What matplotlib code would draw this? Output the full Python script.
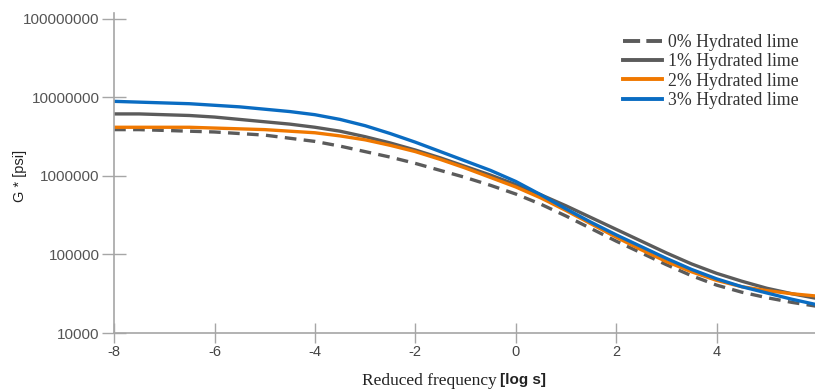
import numpy as np
import matplotlib
matplotlib.use("Agg")
import matplotlib.pyplot as plt
from matplotlib.lines import Line2D
from matplotlib.ticker import FixedLocator, NullLocator

# reduced frequency [log s]
freq = [-8, -7.5, -7, -6.5, -6, -5.5, -5, -4.5, -4, -3.5, -3, -2.5, -2, -1.5, -1, -0.5, 0,
        0.5, 1, 1.5, 2, 2.5, 3, 3.5, 4, 4.5, 5, 5.5, 6]

# log10 of G* [psi]
logg_0 = [6.59, 6.59, 6.58, 6.57, 6.56, 6.54, 6.52, 6.48, 6.44, 6.38, 6.31, 6.24, 6.16, 6.07,
          5.98, 5.88, 5.77, 5.64, 5.49, 5.33, 5.17, 5.02, 4.87, 4.73, 4.61, 4.52, 4.45, 4.39, 4.34]
logg_1 = [6.79, 6.79, 6.78, 6.77, 6.75, 6.72, 6.69, 6.66, 6.62, 6.57, 6.50, 6.42, 6.33, 6.23,
          6.12, 6.01, 5.89, 5.76, 5.62, 5.47, 5.32, 5.17, 5.02, 4.88, 4.76, 4.66, 4.57, 4.50, 4.44]
logg_2 = [6.62, 6.62, 6.62, 6.62, 6.61, 6.60, 6.59, 6.57, 6.55, 6.51, 6.46, 6.39, 6.31, 6.21,
          6.10, 5.98, 5.86, 5.72, 5.56, 5.39, 5.22, 5.06, 4.91, 4.78, 4.67, 4.59, 4.54, 4.50, 4.47]
logg_3 = [6.95, 6.94, 6.93, 6.92, 6.90, 6.88, 6.85, 6.82, 6.78, 6.72, 6.64, 6.54, 6.43, 6.31,
          6.19, 6.07, 5.93, 5.76, 5.58, 5.41, 5.25, 5.10, 4.95, 4.81, 4.69, 4.59, 4.51, 4.43, 4.36]

labels = ["0% Hydrated lime", "1% Hydrated lime", "2% Hydrated lime", "3% Hydrated lime"]
y_ticks = [1e4, 1e5, 1e6, 1e7, 1e8]
x_ticks = [-8, -6, -4, -2, 0, 2, 4]

fig = plt.figure(figsize=(8.15, 3.92), dpi=100)
ax = fig.add_axes([0.140, 0.1505, 0.860, 0.8165])

gray = "#5b5b5b"
orange = "#f07800"
blue = "#0a6cc2"
ax.plot(freq, 10 ** np.array(logg_0), color=gray, lw=2.4, ls=(0, (3.5, 2.2)))
ax.plot(freq, 10 ** np.array(logg_1), color=gray, lw=2.4)
ax.plot(freq, 10 ** np.array(logg_2), color=orange, lw=2.4)
ax.plot(freq, 10 ** np.array(logg_3), color=blue, lw=2.4)

ax.set_yscale("log")
ax.set_ylim(1e4, 10 ** 8.076)
ax.set_xlim(-8, 5.96)
ax.yaxis.set_major_locator(FixedLocator(y_ticks))
ax.yaxis.set_minor_locator(NullLocator())
ax.set_yticklabels([str(int(v)) for v in y_ticks])
ax.set_xticks(x_ticks)
ax.set_xticklabels([str(v) for v in x_ticks])

for s in ["top", "right"]:
    ax.spines[s].set_visible(False)
for s in ["left", "bottom"]:
    ax.spines[s].set_color("#a6a6a6")
    ax.spines[s].set_linewidth(1.2)

ax.tick_params(axis="y", direction="inout", length=17, width=1, color="#a6a6a6",
               labelsize=11, labelcolor="#555555", pad=2)
ax.tick_params(axis="x", direction="inout", length=15, width=1, color="#a6a6a6",
               labelsize=10.5, labelcolor="#444444", pad=1)
for t in ax.get_xticklabels() + ax.get_yticklabels():
    t.set_fontfamily("Liberation Sans")

# legend handles drawn a bit heavier, dashed one with two long dashes like the original
handles = [
    Line2D([], [], color=gray, lw=2.8, ls=(0, (4.4, 1.6))),
    Line2D([], [], color=gray, lw=2.8),
    Line2D([], [], color=orange, lw=2.8),
    Line2D([], [], color=blue, lw=2.8),
]
leg = ax.legend(handles, labels, loc="upper right", bbox_to_anchor=(0.994, 0.972), frameon=False,
                prop={"family": "Liberation Serif", "size": 12.8},
                handlelength=2.2, handletextpad=0.3, labelspacing=0.12, borderpad=0.2)
for t in leg.get_texts():
    t.set_color("#333333")

fig.text(0.610, 0.008, "Reduced frequency", family="Liberation Serif", fontsize=12.5,
         color="#222222", ha="right", va="bottom")
fig.text(0.613, 0.014, "[log s]", family="Liberation Sans", fontsize=11, weight="bold",
         color="#222222", ha="left", va="bottom")
fig.text(0.025, 0.55, "G * [psi]", family="Liberation Sans", fontsize=10.5,
         color="#222222", rotation=90, ha="center", va="center")

fig.savefig("out.png", dpi=100)
